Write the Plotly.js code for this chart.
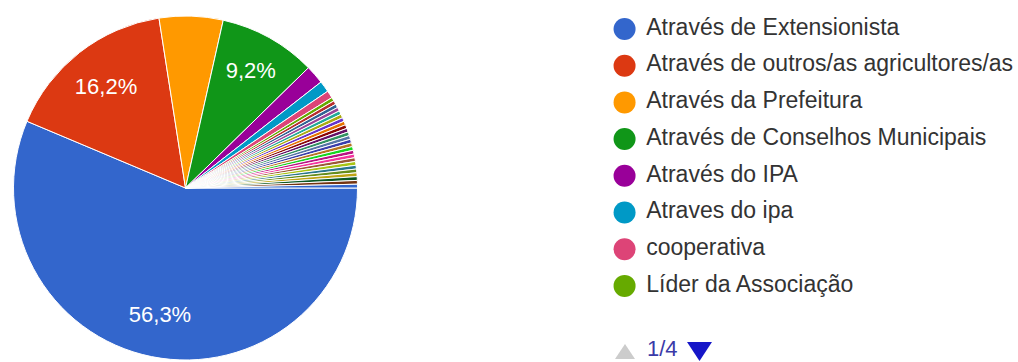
<!DOCTYPE html>
<html>
<head>
<meta charset="utf-8">
<script src="https://cdn.plot.ly/plotly-3.0.1.min.js"></script>
<style>
html,body{margin:0;padding:0;background:#ffffff;}
#chart{width:1018px;height:362px;}
</style>
</head>
<body>
<div id="chart"></div>
<script>
// ---- data ----
const categories = [
  "Através de Extensionista",
  "Através de outros/as agricultores/as",
  "Através da Prefeitura",
  "Através de Conselhos Municipais",
  "Através do IPA",
  "Atraves do ipa",
  "cooperativa",
  "Líder da Associação",
  "Através do Sindicato",
  "Através da rádio",
  "Através da internet",
  "Através de vizinhos",
  "Através da igreja",
  "Através do SEBRAE",
  "Através da EMBRAPA",
  "Através de ONG",
  "Presidente da associação",
  "Através de amigos",
  "Através da família",
  "Através do técnico",
  "Através do banco",
  "Através da televisão",
  "Através do WhatsApp",
  "Através da escola",
  "Através de reuniões",
  "Agente de saúde",
  "Secretaria de Agricultura",
  "Através de cursos",
  "Através do CMDRS",
  "Através de feiras",
  "Banco do Nordeste",
  "Através de palestras"
];
const counts = [160, 46, 17, 26, 5, 3, 2, 1,
  1, 1, 1, 1, 1, 1, 1, 1, 1, 1, 1, 1, 1, 1, 1, 1, 1, 1, 1, 1, 1, 1, 1, 1];
const sliceColors = ['#3366cc','#dc3912','#ff9900','#109618','#990099','#0099c6','#dd4477','#66aa00',
  '#b82e2e','#316395','#994499','#22aa99','#aaaa11','#6633cc','#e67300','#8b0707','#651067','#329262',
  '#5574a6','#3b3eac','#b77322','#16d620','#b91383','#f4359e','#9c5935','#a9c413','#2a778d','#668d1c',
  '#bea413','#0c5922','#743411','#3366cc'];
const legendPageSize = 8;
const legendPage = 1;
const pagerText = legendPage + "/" + Math.ceil(categories.length / legendPageSize);

// ---- derived ----
const total = counts.reduce((a, b) => a + b, 0);
const labelTemplates = counts.map(v => (v / total >= 0.08 ? '%{percent:.1%}' : ''));
const start = (legendPage - 1) * legendPageSize;
const legendLabels = categories.slice(start, start + legendPageSize);
const legendColors = sliceColors.slice(start, start + legendPageSize);

const W = 1018, H = 362;
const px = v => v / W;
const py = v => 1 - v / H;
const pieDomain = {x: [px(13), px(358)], y: [py(360), py(16)]};
const FONT = 'Arial, "Liberation Sans", sans-serif';

const pie = {
  type: 'pie',
  labels: categories,
  values: counts,
  sort: false,
  direction: 'clockwise',
  rotation: 90,
  marker: {colors: sliceColors, line: {color: '#ffffff', width: 1}},
  textinfo: 'none',
  domain: pieDomain,
  showlegend: false,
  hoverinfo: 'label+percent'
};

// transparent ring over the pie that only carries the percentage labels
const pieLabels = {
  type: 'pie',
  labels: categories,
  values: counts,
  sort: false,
  direction: 'clockwise',
  rotation: 90,
  hole: 0.5,
  marker: {colors: categories.map(() => 'rgba(0,0,0,0)'), line: {width: 0}},
  texttemplate: labelTemplates,
  textposition: 'inside',
  insidetextorientation: 'horizontal',
  insidetextfont: {family: FONT, size: 22, color: '#ffffff'},
  domain: pieDomain,
  showlegend: false,
  hoverinfo: 'skip'
};

const legendMarks = {
  type: 'scatter',
  mode: 'markers',
  x: legendLabels.map(() => 0),
  y: legendLabels.map((_, i) => i),
  marker: {size: 22, color: legendColors},
  cliponaxis: false,
  showlegend: false,
  hoverinfo: 'skip'
};

const legendTextGap = 0.055;  // horizontal gap between dot and text (axis units)
const legendText = {
  type: 'scatter',
  mode: 'text',
  x: legendLabels.map(() => legendTextGap),
  y: legendLabels.map((_, i) => i),
  text: legendLabels,
  textposition: 'middle right',
  textfont: {family: FONT, size: 23, color: '#333333'},
  cliponaxis: false,
  showlegend: false,
  hoverinfo: 'skip'
};

const layout = {
  width: W,
  height: H,
  margin: {l: 0, r: 0, t: 0, b: 0},
  paper_bgcolor: '#ffffff',
  plot_bgcolor: '#ffffff',
  separators: ',.',
  showlegend: false,
  xaxis: {domain: [0.6, 1], range: [-0.035, 1], visible: false, fixedrange: true},
  yaxis: {domain: [0, 1], range: [9.074, -0.79], visible: false, fixedrange: true},
  shapes: [
    {type: 'path', xref: 'paper', yref: 'paper',
     path: `M ${px(615)} ${py(359)} L ${px(635)} ${py(359)} L ${px(625)} ${py(344)} Z`,
     fillcolor: '#cccccc', line: {width: 0}},
    {type: 'path', xref: 'paper', yref: 'paper',
     path: `M ${px(687)} ${py(342)} L ${px(712)} ${py(342)} L ${px(699.5)} ${py(361)} Z`,
     fillcolor: '#1616c8', line: {width: 0}}
  ],
  annotations: [
    {xref: 'paper', yref: 'paper', x: px(646), y: py(362), xanchor: 'left', yanchor: 'bottom',
     text: pagerText, showarrow: false, borderpad: 0,
     font: {family: FONT, size: 22, color: '#3a3aa8'}}
  ]
};

Plotly.newPlot('chart', [pie, pieLabels, legendMarks, legendText], layout, {displayModeBar: false, staticPlot: true});
</script>
</body>
</html>
